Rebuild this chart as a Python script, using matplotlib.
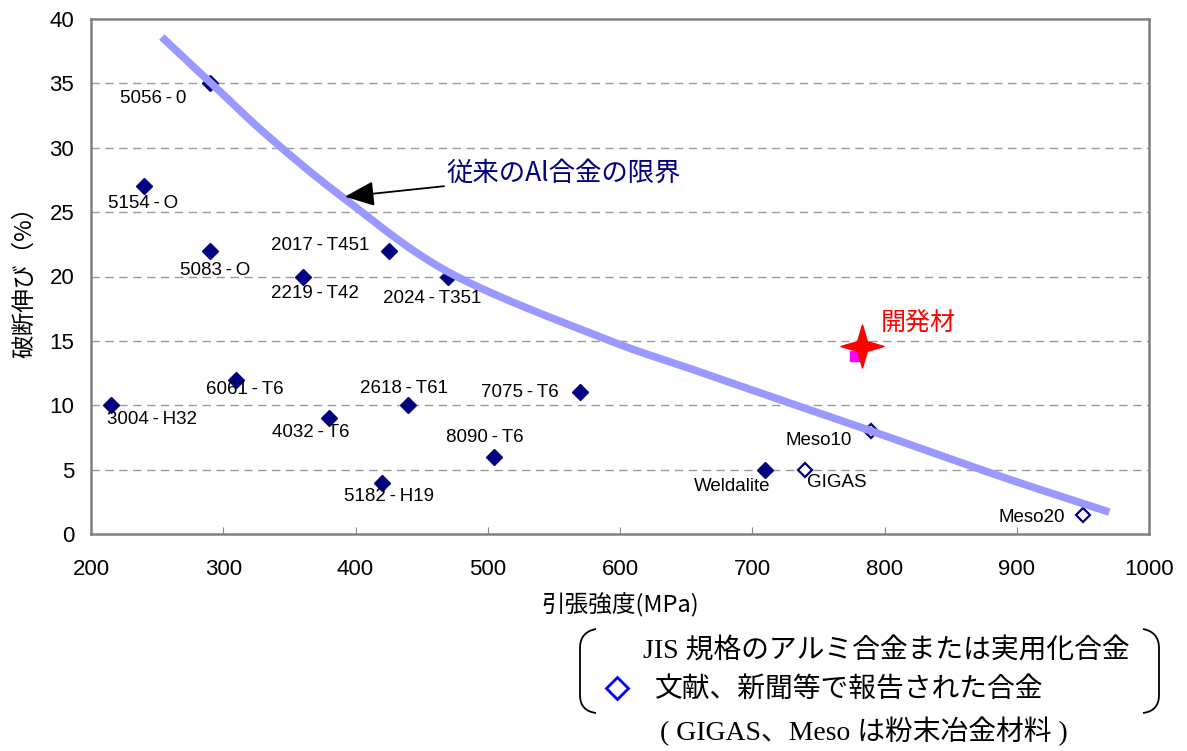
import numpy as np
import matplotlib
matplotlib.use("Agg")
import matplotlib.pyplot as plt
from matplotlib.path import Path
from matplotlib.patches import PathPatch

plt.rcParams["font.family"] = ["Liberation Sans", "Noto Sans CJK JP", "DejaVu Sans"]

D = "\u2009-\u2009"

# filled diamonds: JIS / practical alloys
JIS_NAMES = ["5056" + D + "0", "5154" + D + "O", "5083" + D + "O", "2219" + D + "T42",
             "2017" + D + "T451", "2024" + D + "T351", "6061" + D + "T6", "3004" + D + "H32",
             "4032" + D + "T6", "2618" + D + "T61", "7075" + D + "T6", "8090" + D + "T6",
             "5182" + D + "H19", "Weldalite"]
JIS_TS = [290, 240, 290, 360, 425, 470, 310, 215, 380, 440, 570, 505, 420, 710]
JIS_EL = [35, 27, 22, 20, 22, 20, 12, 10, 9, 10, 11, 6, 4, 5]
JIS_LABEL_X = [247, 239, 294, 369, 373, 458, 316, 246, 366, 437, 524, 498, 425, 685]
JIS_LABEL_Y = [33.8, 25.7, 20.5, 18.7, 22.4, 18.3, 11.2, 8.9, 7.9, 11.3, 11.0, 7.5, 2.9, 3.7]

# open diamonds: alloys reported in literature
LIT_NAMES = ["GIGAS", "Meso10", "Meso20"]
LIT_TS = [740, 790, 950]
LIT_EL = [5, 8, 1.5]
LIT_LABEL_X = [764, 750, 911]
LIT_LABEL_Y = [4.0, 7.3, 1.3]

# developed material
DEV_TS = 783
DEV_EL = 14.6
DEV_SQ_TS = 778
DEV_SQ_EL = 13.8

# conventional limit curve (knots, drawn as a smoothed line)
LIMIT_TS = [253.5, 290, 335, 391, 471, 585, 660, 736, 790, 887, 970]
LIMIT_EL = [38.6, 35.1, 30.8, 26.1, 20.3, 15.3, 12.6, 9.9, 8.0, 4.5, 1.7]

NAVY = "#000080"
JP = ["Noto Sans CJK JP", "DejaVu Sans"]


def smooth_line(xs, ys, n=40):
    # Catmull-Rom through the knots, like Excel's smoothed line
    p = np.column_stack([xs, ys]).astype(float)
    p = np.vstack([2 * p[0] - p[1], p, 2 * p[-1] - p[-2]])
    t = np.linspace(0, 1, n, endpoint=False)[:, None]
    out = []
    for i in range(1, len(p) - 2):
        p0, p1, p2, p3 = p[i - 1], p[i], p[i + 1], p[i + 2]
        out.append(0.5 * (2 * p1 + (-p0 + p2) * t + (2 * p0 - 5 * p1 + 4 * p2 - p3) * t ** 2
                          + (-p0 + 3 * p1 - 3 * p2 + p3) * t ** 3))
    out.append(p[-2][None, :])
    out = np.vstack(out)
    return out[:, 0], out[:, 1]


fig = plt.figure(figsize=(11.87, 7.51), dpi=100)
W, H = 1187, 751
ax = fig.add_axes([91 / W, 1 - 534 / H, (1149 - 91) / W, (534 - 19) / H])


def fx(px):
    return px / W


def fy(py):
    return 1 - py / H


for y in range(5, 40, 5):
    ax.axhline(y, color="#999999", linestyle=(0, (6, 4)), linewidth=1.0, zorder=1)

ax.plot(JIS_TS, JIS_EL, "D", color=NAVY, markersize=8, zorder=3)
ax.plot(LIT_TS, LIT_EL, "D", markerfacecolor="white", markeredgecolor=NAVY,
        markeredgewidth=1.6, markersize=7.5, zorder=3)

# curve drawn on top of markers
cx, cy = smooth_line(LIMIT_TS, LIMIT_EL)
ax.plot(cx, cy, color="#9999FF", linewidth=5.5, solid_capstyle="butt",
        solid_joinstyle="round", zorder=4)

for name, x, y in zip(JIS_NAMES, JIS_LABEL_X, JIS_LABEL_Y):
    ax.text(x, y, name, ha="center", va="center", fontsize=13.5, zorder=5)
for name, x, y in zip(LIT_NAMES, LIT_LABEL_X, LIT_LABEL_Y):
    ax.text(x, y, name, ha="center", va="center", fontsize=13.5, zorder=5)

# developed material: magenta square under a red 4-point star
ax.plot([DEV_SQ_TS], [DEV_SQ_EL], "s", color="#FF00FF", markersize=7, zorder=5)
ang = np.arange(8) * np.pi / 4 + np.pi / 2
rad = np.where(np.arange(8) % 2 == 0, 1.0, 0.32)
star = Path(np.column_stack([rad * np.cos(ang), rad * np.sin(ang)]).tolist() + [[0, 1]],
            [Path.MOVETO] + [Path.LINETO] * 7 + [Path.CLOSEPOLY])
ax.plot([DEV_TS], [DEV_EL], marker=star, color="red", markersize=31, linestyle="none", zorder=6)
ax.text(797, 16.4, "開発材", color="red", fontsize=18, ha="left", va="center",
        family=JP, zorder=6)

ax.annotate("従来のAl合金の限界", xy=(392, 26.2), xytext=(469, 28.0),
            fontsize=19, color=NAVY, ha="left", va="center", family=JP,
            arrowprops=dict(arrowstyle="-|>,head_length=1.3,head_width=0.55",
                            mutation_scale=14, color="black", linewidth=1.3,
                            shrinkA=0, shrinkB=0),
            zorder=6)

ax.set_xlim(200, 1000)
ax.set_ylim(0, 40)
ax.set_xticks(range(200, 1001, 100))
ax.set_yticks(range(0, 41, 5))
ax.tick_params(axis="x", direction="in", length=5, color="#888888", labelsize=16, pad=18)
ax.tick_params(axis="y", length=0, labelsize=16, pad=12)
for s in ax.spines.values():
    s.set_color("#808080")
    s.set_linewidth(1.8)

ax.set_xlabel("引張強度(MPa)", fontsize=17, family=JP, va="center")
ax.xaxis.set_label_coords((620 - 91) / 1058, (534 - 605) / 515)
ax.set_ylabel("破断伸び（%）", fontsize=17, family=JP, va="center")
ax.yaxis.set_label_coords((25 - 91) / 1058, (534 - 276) / 515)

# legend box drawn by hand
leg_font = ["Liberation Serif", "Noto Sans CJK JP", "DejaVu Sans"]
fig.text(fx(643), fy(651), "JIS 規格のアルミ合金または実用化合金", fontsize=20,
         va="center", ha="left", family=leg_font)
fig.text(fx(655), fy(690), "文献、新聞等で報告された合金", fontsize=20,
         va="center", ha="left", family=leg_font)
fig.text(fx(660), fy(731), "( GIGAS、Meso は粉末冶金材料 )", fontsize=20,
         va="center", ha="left", family=leg_font)
fig.add_artist(plt.Line2D([fx(617)], [fy(688)], marker="D", markersize=11,
                          markerfacecolor="white", markeredgecolor="#0000FF",
                          markeredgewidth=2, linestyle="none"))

codes = [Path.MOVETO, Path.CURVE3, Path.CURVE3, Path.LINETO, Path.CURVE3, Path.CURVE3]
left = [(596, 629), (580, 632), (580, 648), (580, 695), (580, 711), (596, 713)]
right = [(1143, 629), (1159, 632), (1159, 648), (1159, 695), (1159, 711), (1143, 713)]
for pts in (left, right):
    p = Path([(fx(a), fy(b)) for a, b in pts], codes)
    fig.add_artist(PathPatch(p, facecolor="none", edgecolor="black", linewidth=1.3,
                             transform=fig.transFigure))

fig.savefig("out.png", dpi=100)
